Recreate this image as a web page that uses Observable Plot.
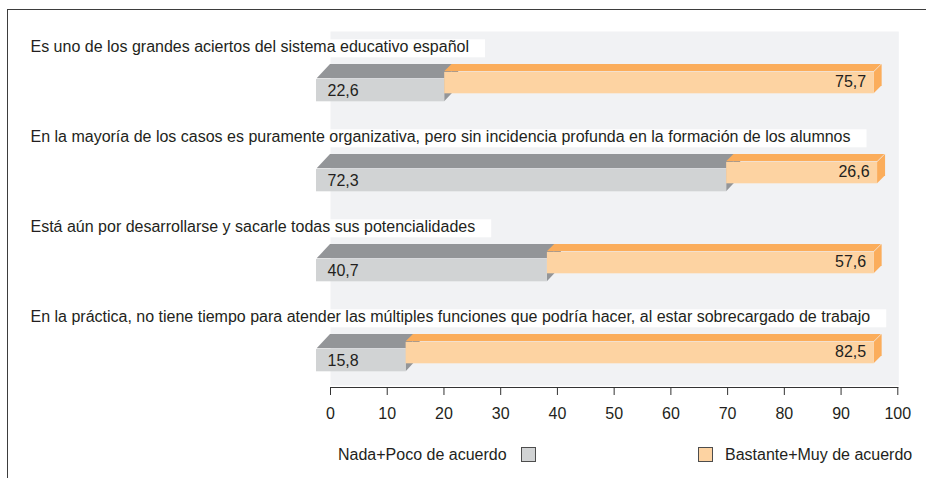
<!DOCTYPE html>
<html><head><meta charset="utf-8">
<script src="https://cdn.jsdelivr.net/npm/d3@7"></script>
<script src="https://cdn.jsdelivr.net/npm/@observablehq/plot@0.6"></script>
<style>
body{margin:0;background:#fff;font-family:"Liberation Sans",Arial,sans-serif;}
#wrap{position:relative;width:926px;height:478px;overflow:hidden;}
#chart{position:absolute;left:0;top:0;}
#frame{position:absolute;left:7px;top:9px;width:1000px;height:1000px;border-top:1px solid #3d3d3d;border-left:1px solid #3d3d3d;pointer-events:none}
.leg{position:absolute;font-size:16px;color:#231f20;line-height:18px;white-space:nowrap}
.sw{position:absolute;width:13px;height:13px;border:1px solid #4d4d4d}
</style></head><body><div id="wrap"><div id="chart"></div><div id="legend"></div><div id="frame"></div></div>
<script>
const categories = [
  "Es uno de los grandes aciertos del sistema educativo español",
  "En la mayoría de los casos es puramente organizativa, pero sin incidencia profunda en la formación de los alumnos",
  "Está aún por desarrollarse y sacarle todas sus potencialidades",
  "En la práctica, no tiene tiempo para atender las múltiples funciones que podría hacer, al estar sobrecargado de trabajo"
];
const nadaPoco = [22.6, 72.3, 40.7, 15.8];
const bastanteMuy = [75.7, 26.6, 57.6, 82.5];
const seriesNames = ["Nada+Poco de acuerdo", "Bastante+Muy de acuerdo"];
const tickValues = [0, 10, 20, 30, 40, 50, 60, 70, 80, 90, 100];

const data = categories.map((c, i) => ({cat: c, a: nadaPoco[i], b: bastanteMuy[i], ab: nadaPoco[i] + bastanteMuy[i]}));
const fmt = v => v.toFixed(1).replace(".", ",");

const BW = 90.7;
const GRAY_TOP = "#939598", GRAY_FRONT = "#d1d3d4", OR_TOP = "#fbad5b", OR_FRONT = "#fdd3a2", INK = "#231f20";

const chart = Plot.plot({
  width: 926, height: 432,
  marginLeft: 330, marginRight: 28.7, marginTop: 31, marginBottom: 45,
  style: {fontFamily: "Liberation Sans, Arial, sans-serif", fontSize: "16px", color: INK, background: "transparent", overflow: "visible"},
  x: {domain: [0, 100], axis: null},
  y: {domain: categories, range: [33, 33 + 4 * BW], padding: 0, axis: null},
  marks: [
    Plot.frame({fill: "#f1f2f4", insetBottom: 2, insetRight: -1}),
    Plot.text(data, {y: "cat", text: "cat", frameAnchor: "left", textAnchor: "start", dx: -300, dy: -32.3, fill: INK, ariaDescription: "cat-label"}),
    Plot.barX(data, {y: "cat", x1: 0, x2: "a", fill: GRAY_TOP, insetTop: 30, insetBottom: BW - 45, ariaDescription: "gray-top"}),
    Plot.barX(data, {y: "cat", x1: "a", x2: "a", dx: -14, insetRight: -14, insetTop: 45, insetBottom: BW - 68, fill: GRAY_TOP, ariaDescription: "gray-side"}),
    Plot.barX(data, {y: "cat", x1: 0, x2: "a", dx: -14, insetTop: 45, insetBottom: BW - 68, fill: GRAY_FRONT, ariaDescription: "gray-front"}),
    Plot.barX(data, {y: "cat", x1: "a", x2: "ab", dx: -14, insetTop: 30, insetBottom: BW - 38, fill: OR_TOP, ariaDescription: "or-top"}),
    Plot.barX(data, {y: "cat", x1: "ab", x2: "ab", dx: -14, insetRight: -8, insetTop: 38, insetBottom: BW - 60, fill: OR_TOP, ariaDescription: "or-side"}),
    Plot.barX(data, {y: "cat", x1: "a", x2: "ab", dx: -14, insetTop: 38, insetBottom: BW - 60, fill: OR_FRONT, ariaDescription: "or-front"}),
    Plot.text(data, {y: "cat", x: 0, text: d => fmt(d.a), textAnchor: "start", dx: -3, dy: 11.15, fill: INK}),
    Plot.text(data, {y: "cat", x: "ab", text: d => fmt(d.b), textAnchor: "end", dx: -22, dy: 2.65, fill: INK}),
    Plot.frame({anchor: "bottom", stroke: "#333"}),
    Plot.axisX({ticks: tickValues, tickSize: 8, tickPadding: 12, tickFormat: d => String(d), stroke: "#333", fill: INK})
  ]
});
document.getElementById("chart").append(chart);

const svg = d3.select(chart);
function markG(desc) { return svg.selectAll(`g[aria-description="${desc}"]`); }
function skew(desc, origin, t) {
  markG(desc).selectAll("rect")
    .style("transform-box", "fill-box").style("transform-origin", origin).style("transform", t);
}
skew("gray-top", "0 0", `skewX(${Math.atan(-14 / 15) * 180 / Math.PI}deg)`);
skew("gray-side", "0 0", `skewY(${Math.atan(-15 / 14) * 180 / Math.PI}deg)`);
skew("or-top", "0 100%", "skewX(-45deg)");
skew("or-side", "0 0", "skewY(-45deg)");

// white boxes behind category labels
const sb = chart.getBoundingClientRect();
const labelNode = markG("cat-label").node();
const boxes = d3.create("svg:g");
chart.insertBefore(boxes.node(), labelNode);
markG("cat-label").selectAll("text").each(function() {
  const r = this.getBoundingClientRect();
  boxes.append("rect")
    .attr("x", r.left - sb.left - 3).attr("y", r.top - sb.top + 1)
    .attr("width", r.width + 19).attr("height", r.height + 1)
    .attr("fill", "#fff");
});

// legend
const legend = document.getElementById("legend");
const legItems = [
  {name: seriesNames[0], color: GRAY_FRONT, textLeft: 338, swLeft: 521},
  {name: seriesNames[1], color: OR_FRONT, textLeft: 725, swLeft: 698}
];
for (const it of legItems) {
  const t = document.createElement("div");
  t.className = "leg"; t.textContent = it.name;
  t.style.left = it.textLeft + "px"; t.style.top = "446px";
  legend.append(t);
  const s = document.createElement("div");
  s.className = "sw"; s.style.background = it.color;
  s.style.left = it.swLeft + "px"; s.style.top = "447px";
  legend.append(s);
}
</script></body></html>
